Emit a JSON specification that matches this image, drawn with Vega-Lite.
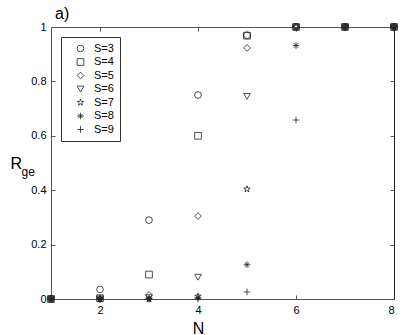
{
  "$schema": "https://vega.github.io/schema/vega-lite/v6.json",
  "width": 343,
  "height": 272,
  "autosize": {"type": "none"},
  "padding": {"left": 51, "top": 27, "right": 15, "bottom": 36},
  "background": "white",
  "title": {"text": "a)", "anchor": "start", "frame": "group", "dx": 4, "offset": -1, "fontSize": 16, "fontWeight": "normal", "font": "Liberation Sans", "color": "black"},
  "config": {
    "view": {"stroke": null},
    "font": "Liberation Sans",
    "axis": {"domainColor": "#555", "tickColor": "#555", "labelColor": "black", "labelFont": "Liberation Sans", "labelFontSize": 11, "grid": false, "tickSize": -4, "labelPadding": 9, "titleColor": "black", "titleFontWeight": "normal"}
  },
  "data": {"values": [
    {"S": "S=3", "N": 1, "R": 0}, {"S": "S=3", "N": 2, "R": 0.035}, {"S": "S=3", "N": 3, "R": 0.29}, {"S": "S=3", "N": 4, "R": 0.75}, {"S": "S=3", "N": 5, "R": 0.97}, {"S": "S=3", "N": 6, "R": 1}, {"S": "S=3", "N": 7, "R": 1}, {"S": "S=3", "N": 8, "R": 1},
    {"S": "S=4", "N": 1, "R": 0}, {"S": "S=4", "N": 2, "R": 0.003}, {"S": "S=4", "N": 3, "R": 0.09}, {"S": "S=4", "N": 4, "R": 0.6}, {"S": "S=4", "N": 5, "R": 0.968}, {"S": "S=4", "N": 6, "R": 1}, {"S": "S=4", "N": 7, "R": 1}, {"S": "S=4", "N": 8, "R": 1},
    {"S": "S=5", "N": 1, "R": 0}, {"S": "S=5", "N": 2, "R": 0}, {"S": "S=5", "N": 3, "R": 0.015}, {"S": "S=5", "N": 4, "R": 0.305}, {"S": "S=5", "N": 5, "R": 0.923}, {"S": "S=5", "N": 6, "R": 1}, {"S": "S=5", "N": 7, "R": 1}, {"S": "S=5", "N": 8, "R": 1},
    {"S": "S=6", "N": 1, "R": 0}, {"S": "S=6", "N": 2, "R": 0}, {"S": "S=6", "N": 3, "R": 0.005}, {"S": "S=6", "N": 4, "R": 0.08}, {"S": "S=6", "N": 5, "R": 0.745}, {"S": "S=6", "N": 6, "R": 1}, {"S": "S=6", "N": 7, "R": 1}, {"S": "S=6", "N": 8, "R": 1},
    {"S": "S=7", "N": 1, "R": 0}, {"S": "S=7", "N": 2, "R": 0}, {"S": "S=7", "N": 3, "R": 0}, {"S": "S=7", "N": 4, "R": 0.01}, {"S": "S=7", "N": 5, "R": 0.404}, {"S": "S=7", "N": 6, "R": 1}, {"S": "S=7", "N": 7, "R": 1}, {"S": "S=7", "N": 8, "R": 1},
    {"S": "S=8", "N": 1, "R": 0}, {"S": "S=8", "N": 2, "R": 0}, {"S": "S=8", "N": 3, "R": 0}, {"S": "S=8", "N": 4, "R": 0.005}, {"S": "S=8", "N": 5, "R": 0.126}, {"S": "S=8", "N": 6, "R": 0.932}, {"S": "S=8", "N": 7, "R": 1}, {"S": "S=8", "N": 8, "R": 1},
    {"S": "S=9", "N": 1, "R": 0}, {"S": "S=9", "N": 2, "R": 0}, {"S": "S=9", "N": 3, "R": 0}, {"S": "S=9", "N": 4, "R": 0}, {"S": "S=9", "N": 5, "R": 0.026}, {"S": "S=9", "N": 6, "R": 0.658}, {"S": "S=9", "N": 7, "R": 1}, {"S": "S=9", "N": 8, "R": 1}
  ]},
  "layer": [
    {
      "mark": {"type": "point", "filled": false, "color": "#222", "strokeWidth": 0.8, "size": 45, "opacity": 1, "clip": false},
      "encoding": {
        "x": {"field": "N", "type": "quantitative", "scale": {"domain": [1, 8], "nice": false, "zero": false},
              "axis": {"orient": "bottom", "values": [2, 4, 6, 8], "title": "N", "titleFontSize": 16, "titleX": 147, "titleY": 34, "titleAlign": "center", "titleBaseline": "alphabetic"}},
        "y": {"field": "R", "type": "quantitative", "scale": {"domain": [0, 1], "nice": false},
              "axis": {"orient": "left", "values": [0, 0.2, 0.4, 0.6, 0.8, 1], "format": "~g", "title": "R", "titleAngle": 0, "titleFontSize": 16, "titleX": -41, "titleY": 141, "titleAlign": "left", "titleBaseline": "alphabetic"}},
        "shape": {"field": "S", "type": "nominal",
                  "scale": {"domain": ["S=3", "S=4", "S=5", "S=6", "S=7", "S=8", "S=9"],
                            "range": ["circle", "square", "diamond", "triangle-down",
                                      "M0,-1L0.235,-0.324L0.951,-0.309L0.38,0.124L0.588,0.809L0,0.4L-0.588,0.809L-0.38,0.124L-0.951,-0.309L-0.235,-0.324Z",
                                      "M-1,0L1,0M0,-1L0,1M-0.7,-0.7L0.7,0.7M-0.7,0.7L0.7,-0.7",
                                      "M-1,0L1,0M0,-1L0,1"]},
                  "legend": {"orient": "none", "legendX": 10, "legendY": 10, "title": null, "strokeColor": "#333", "fillColor": "white", "padding": 6, "labelFontSize": 11, "labelFont": "Liberation Sans", "labelColor": "black", "rowPadding": 1.5, "symbolSize": 45, "symbolStrokeColor": "#222", "symbolStrokeWidth": 0.8, "labelOffset": 8, "symbolOffset": 8}}
      }
    },
    {
      "mark": {"type": "point", "opacity": 0},
      "encoding": {
        "x": {"field": "N", "type": "quantitative", "scale": {"domain": [1, 8], "nice": false, "zero": false},
              "axis": {"orient": "top", "values": [2, 4, 6, 8], "labels": false, "title": null}},
        "y": {"field": "R", "type": "quantitative", "scale": {"domain": [0, 1], "nice": false},
              "axis": {"orient": "right", "values": [0, 0.2, 0.4, 0.6, 0.8, 1], "labels": false, "title": null, "domainColor": "#222"}}
      }
    },
    {
      "mark": {"type": "point", "opacity": 0},
      "encoding": {
        "x": {"field": "N", "type": "quantitative", "scale": {"domain": [1, 8], "nice": false, "zero": false}, "axis": null},
        "y": {"field": "R", "type": "quantitative", "scale": {"domain": [0, 1], "nice": false},
              "axis": {"orient": "left", "domain": false, "ticks": false, "labels": false, "title": "ge", "titleAngle": 0, "titleFontSize": 12, "titleX": -30, "titleY": 148, "titleAlign": "left", "titleBaseline": "alphabetic"}}
      }
    }
  ],
  "resolve": {"axis": {"x": "independent", "y": "independent"}}
}
